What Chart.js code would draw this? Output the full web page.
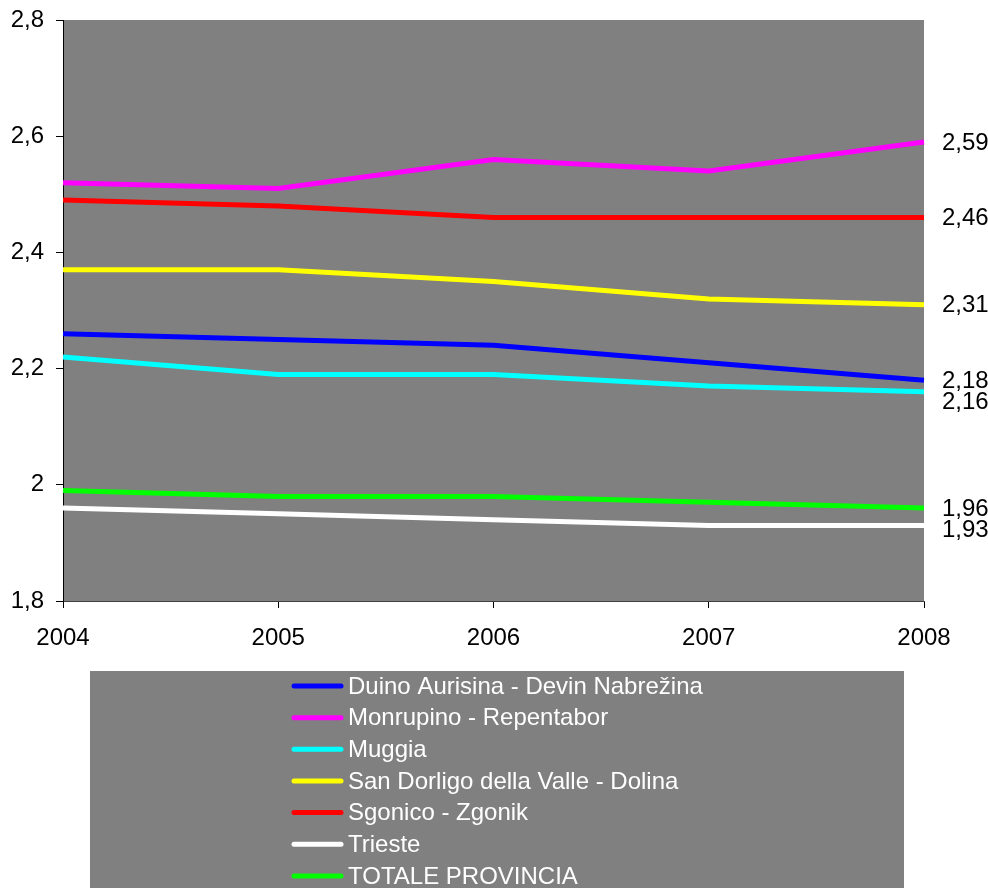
<!DOCTYPE html>
<html>
<head>
<meta charset="utf-8">
<script src="https://cdn.jsdelivr.net/npm/chart.js@4/dist/chart.umd.min.js"></script>
<style>
html,body{margin:0;padding:0;background:#fff;}
#wrap{width:988px;height:888px;}
</style>
</head>
<body>
<div id="wrap"><canvas id="c" width="988" height="888"></canvas></div>
<script>
const years = ['2004', '2005', '2006', '2007', '2008'];
const duino = [2.26, 2.25, 2.24, 2.21, 2.18];
const monrupino = [2.52, 2.51, 2.56, 2.54, 2.59];
const muggia = [2.22, 2.19, 2.19, 2.17, 2.16];
const sanDorligo = [2.37, 2.37, 2.35, 2.32, 2.31];
const sgonico = [2.49, 2.48, 2.46, 2.46, 2.46];
const trieste = [1.96, 1.95, 1.94, 1.93, 1.93];
const totale = [1.99, 1.98, 1.98, 1.97, 1.96];
const seriesNames = ['Duino Aurisina - Devin Nabrežina', 'Monrupino - Repentabor', 'Muggia',
  'San Dorligo della Valle - Dolina', 'Sgonico - Zgonik', 'Trieste', 'TOTALE PROVINCIA'];
const seriesValues = [duino, monrupino, muggia, sanDorligo, sgonico, trieste, totale];
const seriesColors = ['#0000FF', '#FF00FF', '#00FFFF', '#FFFF00', '#FF0000', '#FFFFFF', '#00FF00'];

const FONT = 'Arial, "Liberation Sans", sans-serif';
Chart.defaults.font.family = FONT;
Chart.defaults.font.size = 24;
Chart.defaults.color = '#000';

const fmt = v => String(Number(v).toFixed(2)).replace(/0$/, '').replace(/\.0$/, '').replace('.', ',');

const plotBg = {
  id: 'plotBg',
  beforeDraw(chart) {
    const {ctx, chartArea: a} = chart;
    ctx.save();
    ctx.fillStyle = '#808080';
    ctx.fillRect(a.left, a.top, a.right - a.left, a.bottom - a.top);
    ctx.restore();
  }
};

const endLabels = {
  id: 'endLabels',
  afterDatasetsDraw(chart) {
    const {ctx, chartArea: a} = chart;
    const items = chart.data.datasets.map((ds, i) => {
      const meta = chart.getDatasetMeta(i);
      const pt = meta.data[meta.data.length - 1];
      return {y: pt.y, text: fmt(ds.data[ds.data.length - 1])};
    }).sort((p, q) => p.y - q.y);
    const gap = 21;
    for (let i = 1; i < items.length; i++) {
      if (items[i].y - items[i - 1].y < gap) items[i].y = items[i - 1].y + gap;
    }
    ctx.save();
    ctx.font = '24px ' + FONT;
    ctx.fillStyle = '#000';
    ctx.textAlign = 'left';
    ctx.textBaseline = 'middle';
    items.forEach(it => ctx.fillText(it.text, a.right + 18, it.y + 1));
    ctx.restore();
  }
};

const boxLegend = {
  id: 'boxLegend',
  afterDraw(chart) {
    const ctx = chart.ctx;
    ctx.save();
    ctx.fillStyle = '#808080';
    ctx.fillRect(90, 671, 814, 217);
    ctx.font = '24px ' + FONT;
    ctx.textBaseline = 'middle';
    ctx.textAlign = 'left';
    chart.data.datasets.forEach((ds, i) => {
      const y = 686 + i * 31.65;
      ctx.strokeStyle = ds.borderColor;
      ctx.lineWidth = 5;
      ctx.lineCap = 'round';
      ctx.beginPath();
      ctx.moveTo(294, y);
      ctx.lineTo(341, y);
      ctx.stroke();
      ctx.fillStyle = '#fff';
      ctx.fillText(ds.label, 348, y + 1);
    });
    ctx.restore();
  }
};

new Chart(document.getElementById('c'), {
  type: 'line',
  data: {
    labels: years,
    datasets: seriesNames.map((n, i) => ({
      label: n,
      data: seriesValues[i],
      borderColor: seriesColors[i],
      backgroundColor: seriesColors[i],
      borderWidth: 5,
      pointRadius: 0,
      tension: 0,
      fill: false
    }))
  },
  options: {
    responsive: false,
    animation: false,
    layout: {padding: {top: 20, right: 64, left: 0, bottom: 0}},
    plugins: {legend: {display: false}, tooltip: {enabled: false}},
    scales: {
      x: {
        offset: false,
        grid: {display: true, drawOnChartArea: false, drawTicks: true, tickLength: 7, color: '#000'},
        border: {display: true, color: '#404040', width: 1},
        ticks: {padding: 16, color: '#000', font: {size: 24}, maxRotation: 0, autoSkip: false},
        afterFit: s => { s.height = 287; s.paddingLeft = 0; s.paddingRight = 0; }
      },
      y: {
        min: 1.8, max: 2.8,
        grid: {display: true, drawOnChartArea: false, drawTicks: true, tickLength: 7, color: '#000'},
        border: {display: true, color: '#000', width: 1},
        ticks: {stepSize: 0.2, padding: 12, color: '#000', font: {size: 24},
          callback: v => fmt(v)},
        afterFit: s => { s.width = 63; s.paddingTop = 0; s.paddingBottom = 0; }
      }
    }
  },
  plugins: [plotBg, endLabels, boxLegend]
});
</script>
</body>
</html>
